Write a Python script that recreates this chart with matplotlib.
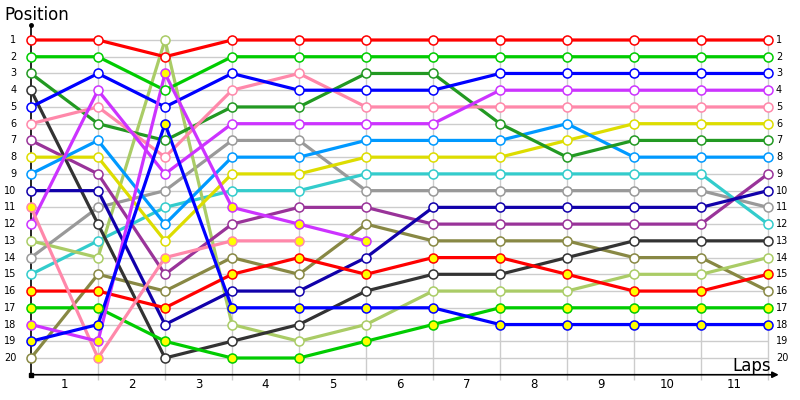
import matplotlib.pyplot as plt

laps = list(range(12))          # lap boundaries, 0 = start
lap_labels = [str(i) for i in range(1, 12)]
positions = list(range(1, 21))

red_a = [1, 1, 2, 1, 1, 1, 1, 1, 1, 1, 1, 1]
green_a = [2, 2, 4, 2, 2, 2, 2, 2, 2, 2, 2, 2]
blue_a = [5, 3, 5, 3, 4, 4, 4, 3, 3, 3, 3, 3]
pink_a = [6, 5, 8, 4, 3, 5, 5, 5, 5, 5, 5, 5]
dkgreen = [3, 6, 7, 5, 5, 3, 3, 6, 8, 7, 7, 7]
magenta_a = [12, 4, 9, 6, 6, 6, 6, 4, 4, 4, 4, 4]
black = [4, 12, 20, 19, 18, 16, 15, 15, 14, 13, 13, 13]
purple = [7, 9, 15, 12, 11, 11, 12, 12, 12, 12, 12, 9]
yellow = [8, 8, 13, 9, 9, 8, 8, 8, 7, 6, 6, 6]
ltblue = [9, 7, 12, 8, 8, 7, 7, 7, 6, 8, 8, 8]
navy = [10, 10, 18, 16, 16, 14, 11, 11, 11, 11, 11, 10]
pink_b = [11, 20, 14, 13, 13]
ltgreen = [13, 14, 1, 18, 19, 18, 16, 16, 16, 15, 15, 14]
gray = [14, 11, 10, 7, 7, 10, 10, 10, 10, 10, 10, 11]
cyan = [15, 13, 11, 10, 10, 9, 9, 9, 9, 9, 9, 12]
red_b = [16, 16, 17, 15, 14, 15, 14, 14, 15, 16, 16, 15]
green_b = [17, 17, 19, 20, 20, 19, 18, 17, 17, 17, 17, 17]
magenta_b = [18, 19, 3, 11, 12, 13]
blue_b = [19, 18, 6, 17, 17, 17, 17, 18, 18, 18, 18, 18]
olive = [20, 15, 16, 14, 15, 12, 13, 13, 13, 14, 14, 16]

# (values, colour, yellow markers)
series = [
    (olive, '#888844', False),
    (gray, '#999999', False),
    (cyan, '#33CCCC', False),
    (ltgreen, '#AACC66', False),
    (black, '#333333', False),
    (purple, '#993399', False),
    (navy, '#1100AA', False),
    (yellow, '#DDDD00', False),
    (ltblue, '#0099FF', False),
    (dkgreen, '#229922', False),
    (pink_a, '#FF88AA', False),
    (magenta_a, '#CC33FF', False),
    (blue_a, '#0000FF', False),
    (green_a, '#00CC00', False),
    (red_a, '#FF0000', False),
    (red_b, '#FF0000', True),
    (green_b, '#00CC00', True),
    (pink_b, '#FF88AA', True),
    (magenta_b, '#CC33FF', True),
    (blue_b, '#0000FF', True),
]

fig = plt.figure(figsize=(8, 4), dpi=100)
ax = fig.add_axes([0, 0, 1, 1])
ax.axis('off')
ax.set_xlim(-31 / 67, 11 + 32 / 67)
ax.set_ylim(1 + 360 / 16.737, 1 - 40 / 16.737)

# grid
ax.hlines(positions, laps[0], laps[-1], color='#cccccc', lw=1, zorder=1)
ax.vlines(laps[1:], 0.7, 21.3, color='#cccccc', lw=1, zorder=1)

# axes with arrows
ax.plot([0, 0], [21, 0.1], color='black', lw=1.2, zorder=2)
ax.plot([0], [0.1], marker='o', ms=2.5, color='black', zorder=2)
ax.plot([0], [21], marker='s', ms=2.5, color='black', zorder=2)
ax.annotate('', xy=(11.16, 21), xytext=(0, 21),
            arrowprops=dict(arrowstyle='-|>', color='black', lw=1.2,
                            mutation_scale=9, shrinkA=0, shrinkB=0), zorder=2)

for vals, col, yel in series:
    x = laps[:len(vals)]
    ax.plot(x, vals, color=col, lw=2.3, zorder=3, solid_capstyle='round')
    ax.plot(x, vals, ls='none', marker='o', ms=6.5, mec=col, mew=1.1,
            mfc='#FFFF00' if yel else 'white', zorder=4)

for p in positions:
    ax.text(-0.22, p, str(p), ha='right', va='center', fontsize=7)
    ax.text(11.12, p, str(p), ha='left', va='center', fontsize=7)

for i, lab in enumerate(lap_labels):
    ax.text(i + 0.5, 21.6, lab, ha='center', va='center', fontsize=8.5)

ax.text(-0.4, -0.5, 'Position', ha='left', va='center', fontsize=12)
ax.text(11.05, 20.5, 'Laps', ha='right', va='center', fontsize=12)

fig.savefig('out.png', dpi=100)
